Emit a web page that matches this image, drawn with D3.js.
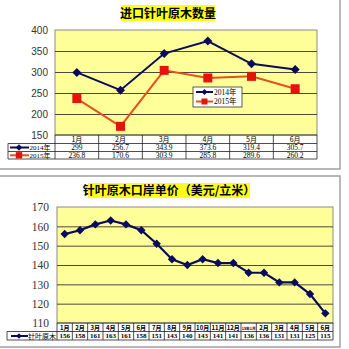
<!DOCTYPE html>
<meta charset="UTF-8">
<script src="https://cdn.jsdelivr.net/npm/d3@7"></script>
<style>
  body { margin: 0; background: #fff; }
  text { font-family: "Liberation Serif", serif; }
  .cjk { font-family: "Noto Sans CJK SC", sans-serif; }
  .mix { font-family: "Liberation Serif", "Noto Sans CJK SC", serif; }
</style>
<div id="chart"></div>
<script>
  // data - top chart
  const months6 = ["1月", "2月", "3月", "4月", "5月", "6月"];
  const vol2014 = [299, 256.7, 343.9, 373.6, 319.4, 305.7];
  const vol2015 = [236.8, 170.6, 303.9, 285.8, 289.6, 260.2];
  const volTicks = [150, 200, 250, 300, 350, 400];

  // data - bottom chart
  const months18 = ["1月","2月","3月","4月","5月","6月","7月","8月","9月","10月","11月","12月",
                    "15年1月","2月","3月","4月","5月","6月"];
  const price = [156, 158, 161, 163, 161, 158, 151, 143, 140, 143, 141, 141, 136, 136, 131, 131, 125, 115];
  const priceTicks = [110, 120, 130, 140, 150, 160, 170];

  const W = 349, H = 349;
  const navy = "#0b0b5c", orange = "#e5501e", red = "#e3140c";

  const svg = d3.select("#chart").append("svg")
    .attr("width", W).attr("height", H);

  // frames
  svg.append("rect").attr("x", -2).attr("y", -2).attr("width", 342).attr("height", 171)
    .attr("fill", "none").attr("stroke", "#a0a0a0").attr("stroke-width", 1.5);
  svg.append("rect").attr("x", -2).attr("y", 176).attr("width", 342).attr("height", 171)
    .attr("fill", "none").attr("stroke", "#a0a0a0").attr("stroke-width", 1.5);

  function diamond(g, cx, cy, r, fill) {
    g.append("path")
      .attr("d", `M${cx},${cy - r}L${cx + r},${cy}L${cx},${cy + r}L${cx - r},${cy}Z`)
      .attr("fill", fill);
  }
  function square(g, cx, cy, r, fill) {
    g.append("rect").attr("x", cx - r).attr("y", cy - r)
      .attr("width", 2 * r).attr("height", 2 * r).attr("fill", fill);
  }

  function title(txt, cx, cy, w, h) {
    svg.append("rect").attr("x", cx - w / 2).attr("y", cy - h / 2)
      .attr("width", w).attr("height", h).attr("fill", "#ffff1a");
    svg.append("text").attr("class", "cjk")
      .attr("x", cx).attr("y", cy + 4.5)
      .attr("text-anchor", "middle")
      .style("font-size", "12px").style("font-weight", "bold")
      .text(txt);
  }

  // ---------------- top chart ----------------
  const topG = svg.append("g");
  const x1 = d3.scaleBand().domain(months6).range([55, 317]);
  const y1 = d3.scaleLinear().domain([150, 400]).range([135, 30]);

  title("进口针叶原木数量", 168, 13, 94, 16);

  topG.append("rect").attr("x", 55).attr("y", 30).attr("width", 262).attr("height", 105)
    .attr("fill", "#ffff99").attr("stroke", "#8a8a8a");

  topG.append("g")
    .call(d3.axisLeft(y1).tickValues(volTicks.slice(1, -1)).tickSize(-262).tickFormat(""))
    .attr("transform", "translate(55,0)")
    .call(g => g.select(".domain").remove())
    .call(g => g.selectAll("line").attr("stroke", "#4a4a3a").attr("stroke-width", 1));

  topG.append("g")
    .attr("transform", "translate(55,0)")
    .call(d3.axisLeft(y1).tickValues(volTicks).tickSize(0).tickPadding(7))
    .call(g => g.select(".domain").remove())
    .call(g => g.selectAll("text").attr("fill", "#333")
      .style("font-size", "10px").style("font-family", "Liberation Sans, sans-serif"));

  const cx1 = d => x1(d) + x1.bandwidth() / 2;
  const line1 = d3.line().x((d, i) => cx1(months6[i])).y(d => y1(d));

  topG.append("path").datum(vol2015).attr("d", line1)
    .attr("fill", "none").attr("stroke", orange).attr("stroke-width", 2);
  vol2015.forEach((v, i) => square(topG, cx1(months6[i]), y1(v), 4.5, red));

  topG.append("path").datum(vol2014).attr("d", line1)
    .attr("fill", "none").attr("stroke", navy).attr("stroke-width", 2);
  vol2014.forEach((v, i) => diamond(topG, cx1(months6[i]), y1(v), 4.5, navy));

  // legend inside plot
  const lg = topG.append("g");
  lg.append("rect").attr("x", 193).attr("y", 87).attr("width", 49).attr("height", 20)
    .attr("fill", "#fff").attr("stroke", "#333").attr("stroke-width", 0.8);
  [["2014年", navy, navy, diamond], ["2015年", orange, red, square]].forEach((s, i) => {
    const yy = 92 + i * 9.5;
    lg.append("line").attr("x1", 196).attr("x2", 213).attr("y1", yy).attr("y2", yy)
      .attr("stroke", s[1]).attr("stroke-width", 2);
    s[3](lg, 204.5, yy, 3, s[2]);
    lg.append("text").attr("class", "mix").attr("x", 214).attr("y", yy + 2.5)
      .style("font-size", "7.5px").text(s[0]);
  });

  // data table
  const tb = topG.append("g").attr("stroke", "#222").attr("stroke-width", 0.8);
  const rows1 = [135, 143.5, 151.5, 159];
  tb.append("line").attr("x1", 55).attr("x2", 317).attr("y1", rows1[0]).attr("y2", rows1[0]);
  rows1.slice(1).forEach(r => tb.append("line").attr("x1", 8).attr("x2", 317).attr("y1", r).attr("y2", r));
  tb.append("line").attr("x1", 8).attr("x2", 8).attr("y1", rows1[1]).attr("y2", rows1[3]);
  months6.forEach(m => tb.append("line").attr("x1", x1(m)).attr("x2", x1(m)).attr("y1", 135).attr("y2", 159));
  tb.append("line").attr("x1", 317).attr("x2", 317).attr("y1", 135).attr("y2", 159);

  months6.forEach((m, i) => {
    topG.append("text").attr("class", "cjk").attr("x", cx1(m)).attr("y", 142)
      .attr("text-anchor", "middle").style("font-size", "7px").text(m);
    topG.append("text").attr("x", cx1(m)).attr("y", 150.3)
      .attr("text-anchor", "middle").style("font-size", "7.5px").text(vol2014[i]);
    topG.append("text").attr("x", cx1(m)).attr("y", 158)
      .attr("text-anchor", "middle").style("font-size", "7.5px").text(vol2015[i]);
  });
  [["2014年", navy, navy, diamond, 147.5], ["2015年", orange, red, square, 155.3]].forEach(s => {
    topG.append("line").attr("x1", 10).attr("x2", 29).attr("y1", s[4]).attr("y2", s[4])
      .attr("stroke", s[1]).attr("stroke-width", 2);
    s[3](topG, 19, s[4], 3.2, s[2]);
    topG.append("text").attr("class", "mix").attr("x", 29.5).attr("y", s[4] + 2.6)
      .style("font-size", "7px").text(s[0]);
  });

  // ---------------- bottom chart ----------------
  const bot = svg.append("g");
  const x2 = d3.scaleBand().domain(d3.range(months18.length)).range([57, 333]);
  const y2 = d3.scaleLinear().domain([110, 170]).range([323, 207]);

  title("针叶原木口岸单价（美元/立米）", 169, 190.5, 162, 15);

  bot.append("rect").attr("x", 57).attr("y", 207).attr("width", 276).attr("height", 116)
    .attr("fill", "#ffff99").attr("stroke", "#8a8a8a");

  bot.append("g")
    .attr("transform", "translate(57,0)")
    .call(d3.axisLeft(y2).tickValues(priceTicks.slice(1, -1)).tickSize(-276).tickFormat(""))
    .call(g => g.select(".domain").remove())
    .call(g => g.selectAll("line").attr("stroke", "#4a4a3a").attr("stroke-width", 1));

  bot.append("g")
    .attr("transform", "translate(57,0)")
    .call(d3.axisLeft(y2).tickValues(priceTicks).tickSize(0).tickPadding(8))
    .call(g => g.select(".domain").remove())
    .call(g => g.selectAll("text").attr("fill", "#333").style("font-size", "11.5px"));

  const cx2 = i => x2(i) + x2.bandwidth() / 2;
  bot.append("path").datum(price)
    .attr("d", d3.line().x((d, i) => cx2(i)).y(d => y2(d)))
    .attr("fill", "none").attr("stroke", navy).attr("stroke-width", 2.2);
  price.forEach((v, i) => diamond(bot, cx2(i), y2(v), 4.2, navy));

  // data table
  const tb2 = bot.append("g").attr("stroke", "#222").attr("stroke-width", 0.8);
  const rows2 = [323, 331.5, 340];
  tb2.append("line").attr("x1", 57).attr("x2", 333).attr("y1", rows2[0]).attr("y2", rows2[0]);
  rows2.slice(1).forEach(r => tb2.append("line").attr("x1", 7).attr("x2", 333).attr("y1", r).attr("y2", r));
  tb2.append("line").attr("x1", 7).attr("x2", 7).attr("y1", rows2[1]).attr("y2", rows2[2]);
  d3.range(months18.length).forEach(i =>
    tb2.append("line").attr("x1", x2(i)).attr("x2", x2(i)).attr("y1", 323).attr("y2", 340));
  tb2.append("line").attr("x1", 333).attr("x2", 333).attr("y1", 323).attr("y2", 340);

  months18.forEach((m, i) => {
    const t = bot.append("text").attr("class", "cjk").attr("x", cx2(i)).attr("y", 329.7)
      .attr("text-anchor", "middle").style("font-size", "6px").style("font-weight", "bold").text(m);
    const w = t.node().getComputedTextLength();
    if (w > x2.bandwidth() - 1.5)
      t.style("font-size", (6 * (x2.bandwidth() - 1.5) / w).toFixed(2) + "px");
    bot.append("text").attr("x", cx2(i)).attr("y", 338.3)
      .attr("text-anchor", "middle").style("font-size", "7px").style("font-weight", "bold")
      .text(price[i]);
  });
  bot.append("line").attr("x1", 11).attr("x2", 28).attr("y1", 336).attr("y2", 336)
    .attr("stroke", navy).attr("stroke-width", 2);
  diamond(bot, 19, 336, 2.8, navy);
  bot.append("text").attr("class", "cjk").attr("x", 28).attr("y", 338.5)
    .style("font-size", "7px").text("针叶原木");
</script>
